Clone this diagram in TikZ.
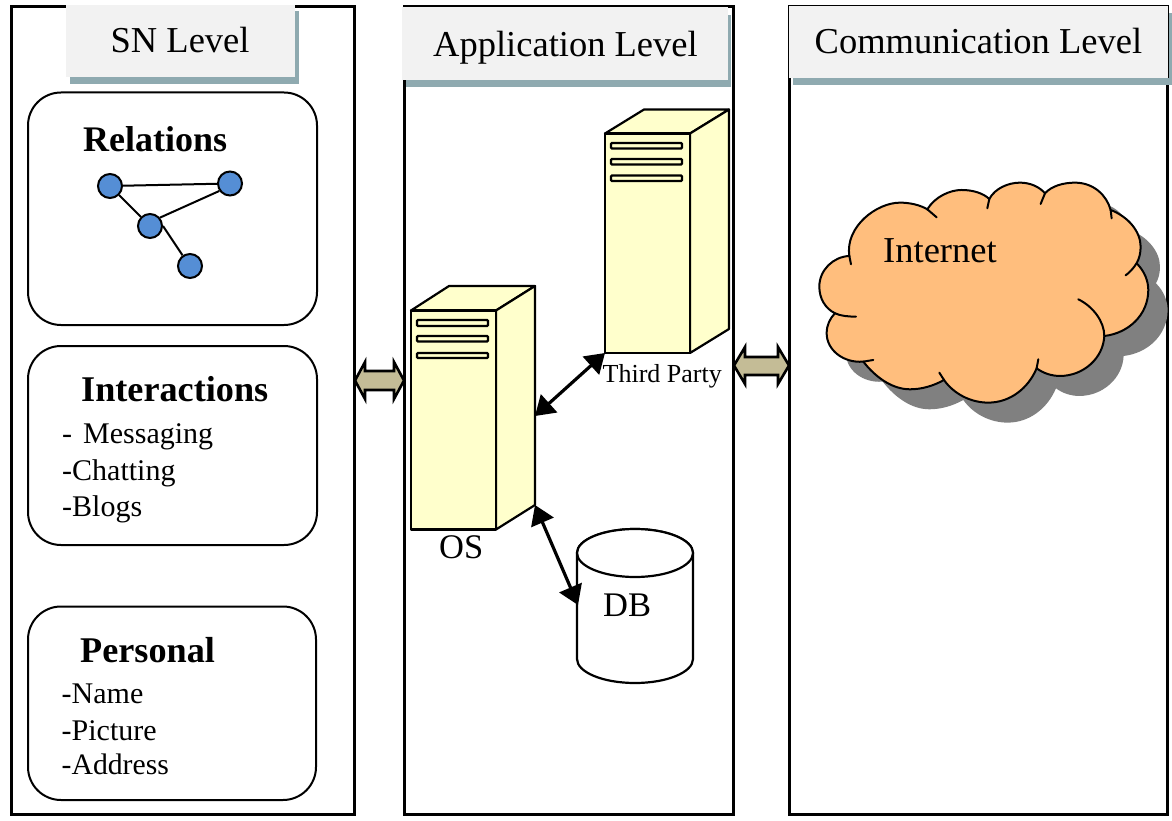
\documentclass[tikz,border=0pt]{standalone}
\usepackage{fontspec}
\setmainfont{Liberation Serif}
\usetikzlibrary{arrows.meta}
\definecolor{hdr}{HTML}{F2F2F2}
\definecolor{hdrshadow}{HTML}{8FAAB0}
\definecolor{srv}{HTML}{FFFFCC}
\definecolor{dot}{HTML}{558ED5}
\definecolor{khaki}{HTML}{C4BC96}
\definecolor{cloudfill}{HTML}{FFBE7D}
\definecolor{cloudshadow}{HTML}{808080}
\newcommand{\fs}[1]{\fontsize{#1}{#1}\selectfont}
\newcommand{\cloudoutline}{(388,768) .. controls (375,680) and (470,608) .. (540,608) .. controls (570,608) and (600,615) .. (622,628)
 .. controls (645,590) and (690,570) .. (725,570) .. controls (760,570) and (790,580) .. (808,597)
 .. controls (825,565) and (865,548) .. (900,548) .. controls (930,548) and (958,560) .. (975,580)
 .. controls (995,558) and (1030,548) .. (1065,548) .. controls (1120,548) and (1160,585) .. (1172,630)
 .. controls (1225,650) and (1262,695) .. (1262,740) .. controls (1262,760) and (1258,775) .. (1250,790)
 .. controls (1275,815) and (1285,845) .. (1285,870) .. controls (1285,945) and (1225,1000) .. (1153,1008)
 .. controls (1150,1075) and (1090,1128) .. (1020,1128) .. controls (995,1128) and (970,1120) .. (950,1105)
 .. controls (925,1165) and (870,1208) .. (805,1208) .. controls (750,1208) and (700,1180) .. (672,1140)
 .. controls (640,1158) and (605,1168) .. (570,1168) .. controls (515,1168) and (465,1130) .. (430,1085)
 .. controls (370,1090) and (320,1050) .. (320,1000) .. controls (320,975) and (330,955) .. (345,940)
 .. controls (315,925) and (298,895) .. (298,860) .. controls (298,810) and (340,770) .. (388,768) -- cycle}
\tikzset{
  panel/.style={draw=black,line width=3pt,fill=white},
  header/.style={fill=hdr,draw=none},
  headshadow/.style={fill=hdrshadow,draw=none},
  roundbox/.style={draw=black,line width=2pt,rounded corners=33pt},
  netdot/.style={circle,draw=black,fill=dot,line width=2pt,minimum size=24pt,inner sep=0pt},
  netlink/.style={draw=black,line width=2pt},
  label/.style={inner sep=0pt,anchor=base west,text=black},
  srvface/.style={fill=srv,draw=black,line width=2.2pt,line join=round},
  slot/.style={fill=srv,draw=black,line width=2.3pt,rounded corners=1pt},
  biarrow/.style={draw=black,line width=3.2pt,{Triangle[length=19pt,width=24pt]}-{Triangle[length=19pt,width=24pt]}},
  blockarrow/.style={fill=khaki,draw=black,line width=2.6pt,line join=miter},
  dbface/.style={fill=white,draw=black,line width=2.2pt},
  cloudline/.style={draw=black,line width=2pt,line cap=round},
}
\begin{document}
\begin{tikzpicture}[x=1pt,y=-1pt]
\useasboundingbox (0,0) rectangle (1172,821);
% panels
\draw[panel] (11,7) rectangle (354.5,814.5);
\draw[panel] (404.5,7) rectangle (733,814.5);
\draw[panel] (789.7,7) rectangle (1167,814.5);
% headers
\fill[headshadow] (70,11) rectangle (299,84);
\fill[header] (66,5) rectangle (295,77);
\node[label] (snlevel) at (110.5,53) {\fs{36.5}SN Level};
\fill[headshadow] (406,15) rectangle (731,87);
\fill[header] (402,7.5) rectangle (728,80);
\node[label] (applevel) at (433,57) {\fs{36.5}Application Level};
\fill[headshadow] (793,13) rectangle (1172,85);
\fill[header] (788.5,5.5) rectangle (1168,78);
\draw[black,line width=0.8pt] (788.5,78) -- (788.5,5.5) -- (1168,5.5) -- (1168,78);
\node[label] (commlevel) at (814.5,53.5) {\fs{36.5}Communication Level};
% rounded boxes
\draw[roundbox] (28,92.5) rectangle (317,325);
\draw[roundbox] (28,346) rectangle (317,545);
\draw[roundbox] (28,606.5) rectangle (316,800);
\node[label] (relations) at (83,151.5) {\fs{36}\bfseries Relations};
\node[label] (interactions) at (81,401) {\fs{36.2}\bfseries Interactions};
\node[label] (personal) at (80,662) {\fs{36.2}\bfseries Personal};
\node[label] (t1) at (62,443) {\fs{30}-\hspace{11pt}Messaging};
\node[label] (t2) at (62,480) {\fs{30}-Chatting};
\node[label] (t3) at (62,516) {\fs{30}-Blogs};
\node[label] (t4) at (61.5,703) {\fs{30}-Name};
\node[label] (t5) at (61.5,740) {\fs{30}-Picture};
\node[label] (t6) at (61.5,774) {\fs{29.7}-Address};
% network
\node[netdot] (n1) at (110,186) {};
\node[netdot] (n2) at (230,183.5) {};
\node[netdot] (n3) at (150,226) {};
\node[netdot] (n4) at (190,266) {};
\draw[netlink] (n1) -- (n2);
\draw[netlink] (n1) -- (n3);
\draw[netlink] (n3.40) -- (n2.215);
\draw[netlink] (n3.east) -- (n4.125);
% OS server
\draw[srvface] (411,310.5) -- (449,286) -- (535,286) -- (496,310.5) -- cycle;
\draw[srvface] (496,310.5) -- (535,286) -- (535,505) -- (496,529.5) -- cycle;
\draw[srvface] (411,310.5) rectangle (496,529.5);
\draw[slot] (417,320) rectangle (488,326);
\draw[slot] (417,336) rectangle (488,341.5);
\draw[slot] (417,353) rectangle (488,358);
% Third party server
\draw[srvface] (605,133.5) -- (644,109.5) -- (729,109.5) -- (690,133.5) -- cycle;
\draw[srvface] (690,133.5) -- (729,109.5) -- (729,329) -- (690,353) -- cycle;
\draw[srvface] (605,133.5) rectangle (690,353);
\draw[slot] (611,143) rectangle (682,148.5);
\draw[slot] (611,159) rectangle (682,164.5);
\draw[slot] (611,175.5) rectangle (682,181);
\node[label] (os) at (439,558) {\fs{34.5}OS};
\node[label] (third) at (602.5,382) {\fs{26}Third Party};
% DB
\draw[dbface] (577,553) arc[start angle=180,end angle=360,x radius=58,y radius=24] -- (693,659)
  arc[start angle=0,end angle=180,x radius=58,y radius=24] -- cycle;
\draw[dbface] (577,553) arc[start angle=180,end angle=0,x radius=58,y radius=24]
  arc[start angle=360,end angle=180,x radius=58,y radius=24];
\node[label] (db) at (603,616.5) {\fs{34.5}DB};
% connector ends
\coordinate (osright) at (535,416);
\coordinate (thirdcorner) at (605,353);
\coordinate (oslow) at (535,505);
\coordinate (dbleft) at (578,605);
\draw[biarrow] (osright) -- (thirdcorner);
\draw[biarrow] (oslow) -- (dbleft);
% block arrows
\draw[blockarrow] (355,380.5) -- (365,362) -- (365,371) -- (394,371) -- (394,362) -- (404,380.5) -- (394,399) -- (394,390) -- (365,390) -- (365,399) -- cycle;
\draw[blockarrow] (734,365.5) -- (745,347) -- (745,357) -- (778,357) -- (778,347) -- (789,365.5) -- (778,384) -- (778,375) -- (745,375) -- (745,384) -- cycle;
% cloud
\begin{scope}[shift={(720,0)},x=0.3333pt,y=-0.3333pt]
\fill[cloudshadow,shift={(58,60)}] \cloudoutline;
\draw[fill=cloudfill,cloudline] \cloudoutline;
\draw[cloudline] (622,628) -- (650,652);
\draw[cloudline] (808,597) -- (802,625);
\draw[cloudline] (975,580) -- (962,612);
\draw[cloudline] (1172,630) -- (1175,655);
\draw[cloudline] (1250,790) .. controls (1240,805) and (1230,817) .. (1217,826);
\draw[cloudline] (1075,898) .. controls (1120,920) and (1153,965) .. (1153,1008);
\draw[cloudline] (955,1078) -- (950,1105);
\draw[cloudline] (658,1118) -- (672,1140);
\draw[cloudline] (460,1080) -- (430,1085);
\draw[cloudline] (408,950) .. controls (385,950) and (362,948) .. (345,940);
\draw[cloudline] (393,793) -- (388,768);
\end{scope}
\node[label] (internet) at (883,262.5) {\fs{36.5}Internet};
\end{tikzpicture}
\end{document}
